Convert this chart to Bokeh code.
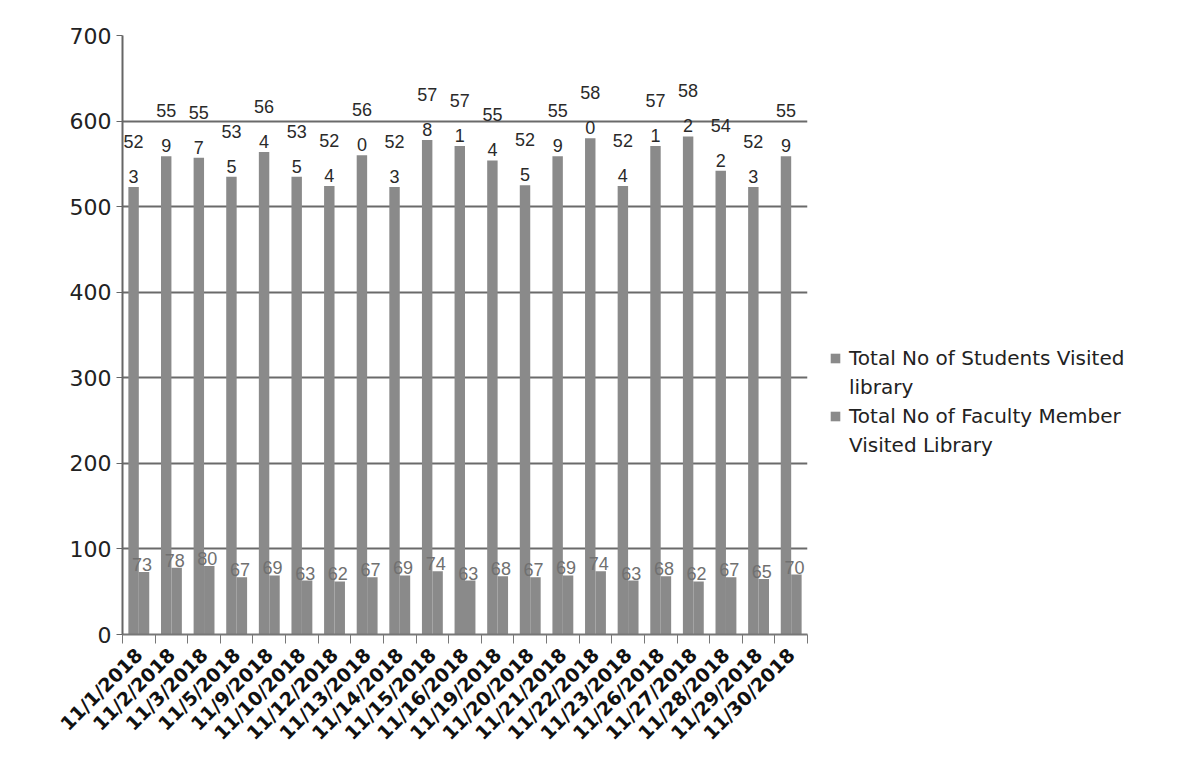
from math import pi
from bokeh.plotting import figure
from bokeh.models import ColumnDataSource, FixedTicker, Legend, LegendItem
from bokeh.transform import dodge
from bokeh.core.properties import value
from bokeh.embed import file_html
from bokeh.resources import INLINE

dates = ["11/1/2018", "11/2/2018", "11/3/2018", "11/5/2018", "11/9/2018",
         "11/10/2018", "11/12/2018", "11/13/2018", "11/14/2018", "11/15/2018",
         "11/16/2018", "11/19/2018", "11/20/2018", "11/21/2018", "11/22/2018",
         "11/23/2018", "11/26/2018", "11/27/2018", "11/28/2018", "11/29/2018",
         "11/30/2018"]
students = [523, 559, 557, 535, 564, 535, 524, 560, 523, 578, 571,
            554, 525, 559, 580, 524, 571, 582, 542, 523, 559]
faculty = [73, 78, 80, 67, 69, 63, 62, 67, 69, 74, 63,
           68, 67, 69, 74, 63, 68, 62, 67, 65, 70]
series_lines = [["Total No of Students Visited", "library"],
                ["Total No of Faculty Member", "Visited Library"]]
y_ticks = [0, 100, 200, 300, 400, 500, 600, 700]

n = len(dates)
xs = list(range(n))
src = ColumnDataSource(dict(
    x=xs, students=students, faculty=faculty,
    s_lbl=[f"{v // 10}\n{v % 10}" for v in students],
    f_lbl=[str(v) for v in faculty],
))

BAR = "#8a8a8a"
FW, FH = 685, 599
p = figure(frame_width=FW, frame_height=FH, x_range=(-0.5, n - 0.5), y_range=(0, 700),
           output_backend="svg", toolbar_location=None,
           min_border_left=122, min_border_top=35, min_border_bottom=145,
           min_border_right=365)

r1 = p.vbar(x=dodge("x", -0.16, range=p.x_range), top="students", width=0.32,
            source=src, fill_color=BAR, line_color=None)
r2 = p.vbar(x=dodge("x", 0.16, range=p.x_range), top="faculty", width=0.32,
            source=src, fill_color=BAR, line_color=None)
blank = p.scatter(x=[], y=[], size=0, fill_alpha=0, line_alpha=0)

p.text(x=dodge("x", -0.16, range=p.x_range), y="students", text="s_lbl", source=src,
       text_align="center", text_baseline="bottom", y_offset=0,
       text_font_size="18px", text_line_height=1.75, text_color="#2a2a2a",
       text_font=value("Liberation Sans"))
p.text(x=dodge("x", 0.1, range=p.x_range), y="faculty", text="f_lbl", source=src,
       text_align="center", text_baseline="bottom", y_offset=-1,
       text_font_size="18px", text_color="#707070", text_font=value("Liberation Sans"))

# axes
p.xaxis.ticker = FixedTicker(ticks=xs, minor_ticks=[i - 0.5 for i in range(n + 1)])
p.xaxis.major_label_overrides = {i: d for i, d in enumerate(dates)}
p.xaxis.major_label_orientation = pi / 4
p.xaxis.major_label_text_font = "DejaVu Sans"
p.xaxis.major_label_text_font_style = "bold"
p.xaxis.major_label_text_font_size = "19px"
p.xaxis.major_label_text_color = "#111111"
p.xaxis.major_label_standoff = 8
p.xaxis.major_tick_out = 0
p.xaxis.major_tick_in = 0
p.xaxis.minor_tick_out = 9
p.xaxis.minor_tick_in = 0
p.xaxis.minor_tick_line_color = "#777777"
p.xaxis.axis_line_color = "#777777"
p.xaxis.axis_line_width = 2

p.yaxis.ticker = FixedTicker(ticks=y_ticks)
p.yaxis.major_label_text_font = "DejaVu Sans"
p.yaxis.major_label_text_font_size = "22px"
p.yaxis.major_label_text_color = "#222222"
p.yaxis.axis_line_color = "#666666"
p.yaxis.axis_line_width = 2
p.yaxis.major_tick_out = 6
p.yaxis.major_tick_in = 0
p.yaxis.major_tick_line_color = "#666666"
p.yaxis.minor_tick_line_color = None
p.yaxis.major_label_standoff = 5

p.xgrid.grid_line_color = None
p.ygrid.grid_line_color = "#6a6a6a"
p.ygrid.grid_line_width = 2
p.outline_line_color = None

legend = Legend(items=[LegendItem(label=series_lines[0][0], renderers=[r1]),
                       LegendItem(label=series_lines[0][1], renderers=[blank]),
                       LegendItem(label=series_lines[1][0], renderers=[r2]),
                       LegendItem(label=series_lines[1][1], renderers=[blank])],
                location=(22, 176), border_line_color=None,
                background_fill_alpha=0,
                label_text_font="DejaVu Sans", label_text_font_size="20px",
                label_text_color="#222222", glyph_width=12, glyph_height=12,
                label_height=27, label_standoff=8, spacing=2, margin=0, padding=0)
p.add_layout(legend, "right")

open("out.html", "w").write(file_html(p, INLINE))
